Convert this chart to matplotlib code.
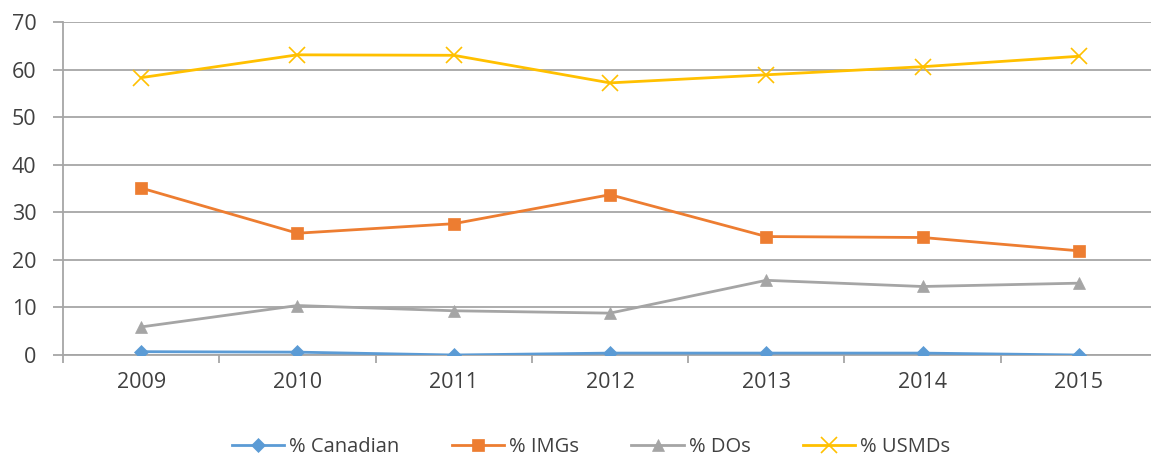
import matplotlib
matplotlib.use('Agg')
import matplotlib.pyplot as plt
from matplotlib.ticker import MultipleLocator, FixedLocator

plt.rcParams['font.family'] = ['Open Sans', 'DejaVu Sans']

years = ['2009', '2010', '2011', '2012', '2013', '2014', '2015']
canadian = [0.7, 0.6, 0.0, 0.4, 0.4, 0.4, 0.0]
imgs = [35.1, 25.6, 27.6, 33.7, 24.9, 24.7, 21.9]
dos = [5.9, 10.4, 9.3, 8.8, 15.7, 14.4, 15.1]
usmds = [58.3, 63.1, 63.0, 57.2, 58.9, 60.6, 62.8]

labels = ['% Canadian', '% IMGs', '% DOs', '% USMDs']
colors = ['#5B9BD5', '#ED7D31', '#A5A5A5', '#FFC000']
markers = ['D', 's', '^', 'x']
sizes = [7, 8.5, 9, 11]

fig = plt.figure(figsize=(11.51, 4.74), dpi=100)
ax = fig.add_axes([63 / 1151, 1 - 355 / 474, 1094 / 1151, 333 / 474])

x = list(range(len(years)))
series = [canadian, imgs, dos, usmds]
for vals, lab, col, mk, ms in zip(series, labels, colors, markers, sizes):
    ax.plot(x, vals, color=col, lw=2.0, marker=mk, markersize=ms,
            markeredgewidth=1.2 if mk == 'x' else 0.5, label=lab, zorder=3)

ax.set_xlim(-0.5, 6.5)
ax.set_ylim(0, 70)
ax.yaxis.set_major_locator(MultipleLocator(10))
ax.grid(axis='y', color='#A6A6A6', lw=1.3, zorder=0)

ax.set_xticks(x)
ax.set_xticklabels(years)
ax.xaxis.set_minor_locator(FixedLocator([i - 0.5 for i in range(len(years) + 1)]))
ax.tick_params(axis='x', which='major', length=0, pad=12, labelsize=15.5, labelcolor='#404040')
ax.tick_params(axis='x', which='minor', length=6, width=1.3, color='#A6A6A6')
ax.tick_params(axis='y', length=7, width=1.3, color='#A6A6A6', pad=12, labelsize=15.5,
               labelcolor='#404040')

for s in ['top', 'right']:
    ax.spines[s].set_visible(False)
for s in ['left', 'bottom']:
    ax.spines[s].set_color('#A6A6A6')
    ax.spines[s].set_linewidth(1.3)

fig.legend(loc='center', bbox_to_anchor=(591 / 1151, 1 - 447 / 474), ncol=4, frameon=False,
           fontsize=14.5, handlelength=2.6, columnspacing=2.6, handletextpad=0.25,
           labelcolor='#404040')

fig.savefig('out.png', dpi=100)
